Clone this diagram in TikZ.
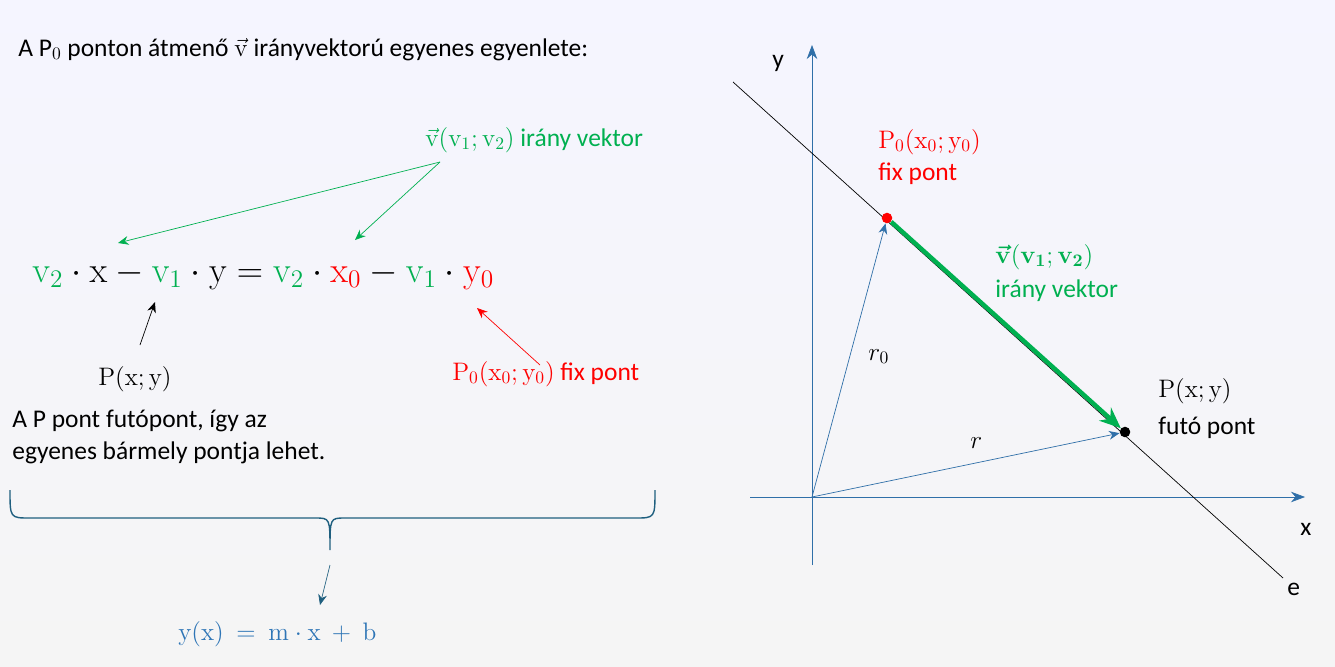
\documentclass[tikz,border=0pt]{standalone}
\usepackage[no-math]{fontspec}
\setmainfont{Carlito}
\usepackage{amsmath}
\usetikzlibrary{arrows.meta}
\definecolor{zold}{HTML}{00B050}
\definecolor{piros}{HTML}{FF0000}
\definecolor{kek}{HTML}{2E75B6}
\definecolor{tengely}{HTML}{2F6FA8}
\definecolor{sotet}{HTML}{1F5F7F}
\tikzset{
  szoveg/.style={anchor=base west, inner sep=0pt, font=\fontsize{14.5}{17}\selectfont},
  keplet/.style={anchor=base west, inner sep=0pt, font=\fontsize{21}{25}\selectfont},
  nyil/.style={-{Stealth[length=6pt,width=5pt]}, thin},
  pont/.style={circle, fill, inner sep=0pt, minimum size=6pt}
}
\newcommand{\ve}{\vec{\mathrm{v}}}
\begin{document}
\begin{tikzpicture}[x=0.02cm,y=-0.02cm]
  % background
  \shade[top color=blue!4!white, bottom color=black!4!white] (0,0) rectangle (1335,666);
  \useasboundingbox (0,0) rectangle (1335,666);

  % left side texts
  \node[szoveg] (cim) at (18,56) {A P$_0$ ponton átmenő $\ve$ irányvektorú egyenes egyenlete:};
  \node[keplet] (egy) at (32,282) {$\color{zold}\mathrm{v}_2\color{black}\cdot\mathrm{x}-\color{zold}\mathrm{v}_1\color{black}\cdot\mathrm{y}=\color{zold}\mathrm{v}_2\color{black}\cdot\color{piros}\mathrm{x}_0\color{black}-\color{zold}\mathrm{v}_1\color{black}\cdot\color{piros}\mathrm{y}_0$};
  \node[szoveg, text=zold] (irany) at (425,146) {$\ve(\mathrm{v}_1;\mathrm{v}_2)$ irány vektor};
  \coordinate (iranyt) at (440,162);
  \coordinate (v2a) at (118,243);
  \coordinate (v2b) at (355,240);
  \draw[nyil, zold] (iranyt) -- (v2a);
  \draw[nyil, zold] (iranyt) -- (v2b);
  \node[szoveg] (pxy) at (98,385) {$\mathrm{P(x;y)}$};
  \coordinate (pxyt) at (140,345);
  \coordinate (xcel) at (155,302);
  \draw[nyil] (pxyt) -- (xcel);
  \node[szoveg, text=piros] (fix) at (452,380) {$\mathrm{P_0(x_0;y_0)}$ fix pont};
  \coordinate (fixt) at (540,365);
  \coordinate (y0cel) at (477,308);
  \draw[nyil, piros] (fixt) -- (y0cel);
  \node[szoveg] (futo1) at (12,427) {A P pont futópont, így az};
  \node[szoveg] (futo2) at (12,459) {egyenes bármely pontja lehet.};

  % brace
  \draw[sotet, thick] (10,490) .. controls (10,518) .. (30,518) -- (315,518)
    .. controls (330,518) .. (330,550) .. controls (330,518) .. (345,518)
    -- (635,518) .. controls (655,518) .. (655,490);
  \coordinate (kapcs) at (330,565);
  \coordinate (ycel) at (320,605);
  \draw[nyil, sotet] (kapcs) -- (ycel);
  \node[szoveg, text=kek] (yx) at (178,640) {$\mathrm{y(x)\ =\ m\cdot x\ +\ b}$};

  % right side: axes
  \coordinate (O) at (812,497);
  \coordinate (xb) at (750,497);
  \coordinate (xj) at (1305,497);
  \coordinate (ya) at (812,565);
  \coordinate (yf) at (812,45);
  \draw[tengely, -{Stealth[length=8pt,width=6pt]}] (xb) -- (xj);
  \draw[tengely, -{Stealth[length=8pt,width=6pt]}] (ya) -- (yf);
  \node[szoveg] (ylab) at (772,67) {y};
  \node[szoveg] (xlab) at (1300,535) {x};

  % line e
  \coordinate (ea) at (733,82);
  \coordinate (eb) at (1283,578);
  \draw[thin] (ea) -- (eb);
  \node[szoveg] (elab) at (1287,595) {e};

  % points
  \node[pont, piros] (P0) at (887,218) {};
  \node[pont, black] (P) at (1125,432) {};
  \draw[tengely, nyil] (O) -- (P0);
  \draw[tengely, nyil] (O) -- (P);
  \draw[zold, line width=2.5pt, -{Stealth[length=12pt,width=10pt]}] (P0) -- (P);

  % labels
  \node[szoveg, text=piros] (P0lab) at (878,148) {$\mathrm{P_0(x_0;y_0)}$};
  \node[szoveg, text=piros] (P0fix) at (878,180) {fix pont};
  \node[szoveg, text=zold] (vlab) at (995,263) {$\boldsymbol{\ve}(\mathbf{v_1;v_2})$};
  \node[szoveg, text=zold] (virany) at (995,297) {irány vektor};
  \node[szoveg] (Plab) at (1158,397) {$\mathrm{P(x;y)}$};
  \node[szoveg] (Pfuto) at (1158,434) {futó pont};
  \node[szoveg] (r0lab) at (868,360) {$r_0$};
  \node[szoveg] (rlab) at (970,448) {$r$};
\end{tikzpicture}
\end{document}
